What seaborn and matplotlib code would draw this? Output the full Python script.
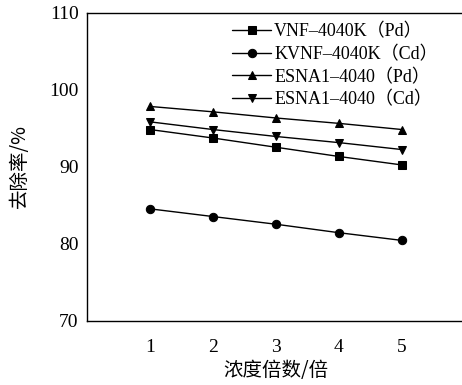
import numpy as np
import pandas as pd
import matplotlib
matplotlib.use("Agg")
import matplotlib.pyplot as plt
import seaborn as sns

x_vals = [1, 2, 3, 4, 5]
series_names = ["VNF–4040K（Pd）", "KVNF–4040K（Cd）", "ESNA1–4040（Pd）", "ESNA1–4040（Cd）"]
vnf_pd = [94.8, 93.7, 92.5, 91.3, 90.2]
kvnf_cd = [84.5, 83.5, 82.5, 81.4, 80.4]
esna_pd = [97.8, 97.1, 96.3, 95.6, 94.8]
esna_cd = [95.8, 94.8, 93.9, 93.1, 92.2]
y_ticks = [70, 80, 90, 100, 110]
x_ticks = [1, 2, 3, 4, 5]

sns.set_theme(style="white")
plt.rcParams['font.family'] = ['Liberation Serif', 'Noto Sans CJK SC', 'DejaVu Sans']
plt.rcParams['axes.unicode_minus'] = False

rows = []
for name, vals in zip(series_names, [vnf_pd, kvnf_cd, esna_pd, esna_cd]):
    for xv, yv in zip(x_vals, vals):
        rows.append({"x": xv, "y": yv, "series": name})
df = pd.DataFrame(rows)

fig = plt.figure(figsize=(4.62, 3.85), dpi=100)
ax = fig.add_axes([87/462, 64.5/385, 378/462, 308/385])

markers = dict(zip(series_names, ["s", "o", "^", "v"]))
sns.lineplot(data=df, x="x", y="y", hue="series", style="series",
             palette=["black"] * 4, markers=markers, dashes=False,
             markersize=6, linewidth=1.0, markeredgecolor="black",
             ax=ax)

ax.set_xlim(0, 6)
ax.set_ylim(70, 110)
ax.set_xticks(x_ticks)
ax.set_yticks(y_ticks)
ax.tick_params(axis="both", direction="in", length=4, width=1, labelsize=14,
               colors="black")
ax.tick_params(axis="y", pad=6)
ax.tick_params(axis="x", pad=13)
for s in ["left", "bottom", "top"]:
    ax.spines[s].set_color("black")
    ax.spines[s].set_linewidth(1.0)
ax.spines["right"].set_visible(False)

ax.set_xlabel("浓度倍数/倍", fontsize=14, color="black", labelpad=3,
              family=['Noto Sans CJK SC', 'DejaVu Sans'])
ax.set_ylabel("去除率/%", fontsize=14, color="black", labelpad=14,
              family=['Noto Sans CJK SC', 'DejaVu Sans'])

leg = ax.legend(loc="upper left", bbox_to_anchor=(0.354, 1.0), frameon=False,
                fontsize=13, handlelength=2.2, handletextpad=0.15,
                labelspacing=0.3, borderaxespad=0.2, title=None)
for t in leg.get_texts():
    t.set_color("black")

fig.savefig("out.png", dpi=100)
